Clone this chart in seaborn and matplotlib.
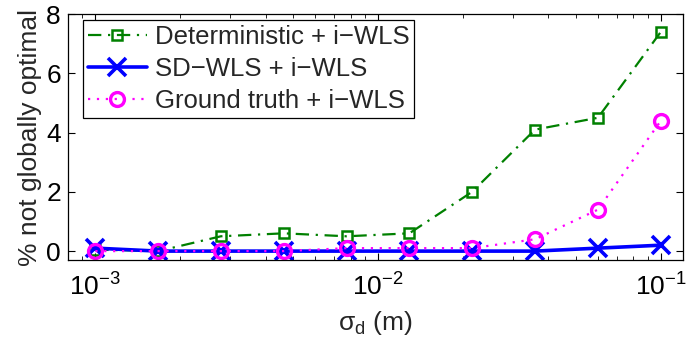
import numpy as np
import pandas as pd
import matplotlib
matplotlib.use("Agg")
import matplotlib.pyplot as plt
import seaborn as sns

sigma_d = [1.0e-3, 1.67e-3, 2.78e-3, 4.64e-3, 7.74e-3, 1.29e-2, 2.15e-2, 3.59e-2, 5.99e-2, 1.0e-1]
deterministic = [0.05, 0.0, 0.5, 0.6, 0.5, 0.6, 2.0, 4.1, 4.5, 7.4]
sd_wls = [0.1, 0.0, 0.0, 0.0, 0.0, 0.0, 0.0, 0.0, 0.1, 0.2]
ground_truth = [0.0, 0.0, 0.0, 0.0, 0.1, 0.1, 0.1, 0.4, 1.4, 4.4]
labels = ["Deterministic + i\u2212WLS", "SD\u2212WLS + i\u2212WLS", "Ground truth + i\u2212WLS"]

sns.set_theme(style="ticks")
plt.rcParams["font.family"] = ["Liberation Sans", "DejaVu Sans"]
plt.rcParams["mathtext.fontset"] = "custom"
plt.rcParams["mathtext.rm"] = "Liberation Sans"
plt.rcParams["mathtext.it"] = "Liberation Sans:italic"
plt.rcParams["axes.unicode_minus"] = True

FS = 19

fig = plt.figure(figsize=(6.86, 3.43), dpi=100)
ax = fig.add_axes([0.099, 0.242, 0.897, 0.717])

df = pd.DataFrame({"x": sigma_d, "det": deterministic, "sd": sd_wls, "gt": ground_truth})

sns.lineplot(data=df, x="x", y="det", ax=ax, color="#008000", linestyle=(0, (6, 3, 1, 3)),
             linewidth=1.6, marker="s", markersize=7, markerfacecolor="none",
             markeredgecolor="#008000", markeredgewidth=1.8, label=labels[0])
sns.lineplot(data=df, x="x", y="sd", ax=ax, color="#0000ff", linestyle="-",
             linewidth=2.6, marker="x", markersize=13, markeredgewidth=2.6,
             markeredgecolor="#0000ff", label=labels[1])
sns.lineplot(data=df, x="x", y="gt", ax=ax, color="#ff00ff", linestyle=(0, (1, 3)),
             linewidth=1.6, marker="o", markersize=10, markerfacecolor="none",
             markeredgecolor="#ff00ff", markeredgewidth=2.4, label=labels[2])

ax.set_xscale("log")
ax.set_xlim(0.8e-3, 0.12)
ax.set_ylim(-0.3, 8)
ax.set_yticks([0, 2, 4, 6, 8])
ax.set_xticks([1e-3, 1e-2, 1e-1])

ax.tick_params(axis="both", which="both", direction="in", top=True, right=True,
               labelsize=FS, colors="black")
ax.tick_params(axis="x", pad=10)
ax.tick_params(axis="y", pad=5)
ax.tick_params(which="major", length=5, width=0.8)
ax.tick_params(which="minor", length=3, width=0.6)
for s in ax.spines.values():
    s.set_visible(True)
    s.set_color("black")
    s.set_linewidth(0.9)

ax.set_xlabel("\u03c3$_\\mathrm{d}$ (m)", fontsize=FS, labelpad=6)
ax.set_ylabel("% not globally optimal", fontsize=FS, labelpad=3)

leg = ax.legend(loc="upper left", fontsize=18.5, frameon=True, fancybox=False,
                edgecolor="black", framealpha=1, borderpad=0.2, handlelength=2.3,
                handletextpad=0.3, labelspacing=0.3, borderaxespad=0.0,
                bbox_to_anchor=(0.024, 0.975))
leg.get_frame().set_linewidth(0.9)

fig.savefig("out.png", dpi=100)
